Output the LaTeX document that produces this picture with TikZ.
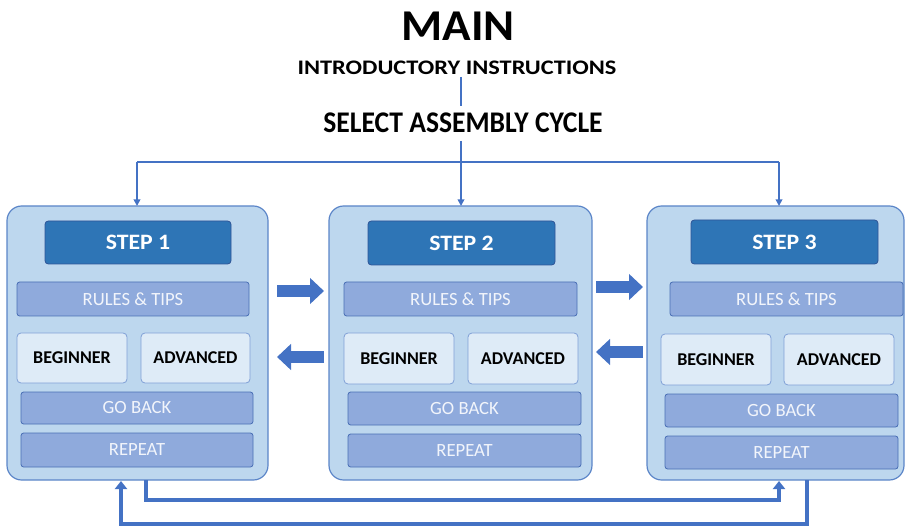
\documentclass[tikz,border=0pt]{standalone}
\usepackage{fontspec}
\setmainfont{Carlito}
\usetikzlibrary{arrows.meta,calc}
\definecolor{outerfill}{HTML}{BDD7EE}
\definecolor{outerdraw}{HTML}{5B85C8}
\definecolor{stepfill}{HTML}{2E75B6}
\definecolor{stepdraw}{HTML}{2F5597}
\definecolor{barfill}{HTML}{8FAADC}
\definecolor{bardraw}{HTML}{4A6FB5}
\definecolor{lvlfill}{HTML}{DEEBF7}
\definecolor{lvldraw}{HTML}{7F9FD6}
\definecolor{arrowc}{HTML}{4472C4}
\definecolor{bartext}{HTML}{F2F5FB}
\newcommand\mkbox[7]{\node[#2, inner sep=0pt, outer sep=0pt,
  minimum width={(#5-#3)*0.75pt}, minimum height={(#6-#4)*0.75pt}]
  (#1) at ({(#3+#5)/2},{(#4+#6)/2}) {#7};}
\newcommand\stp[1]{\scalebox{1.08}[1]{#1}}
\begin{document}
\begin{tikzpicture}[x=0.75pt,y=-0.75pt,
  outerbox/.style={draw=outerdraw, fill=outerfill, line width=0.9pt, rounded corners=11pt},
  stepbox/.style={draw=stepdraw, fill=stepfill, line width=0.6pt, rounded corners=2.5pt, text=white, font=\bfseries\fontsize{16.5}{18}\selectfont},
  barbox/.style={draw=bardraw, fill=barfill, line width=0.6pt, rounded corners=2pt, text=bartext, font=\fontsize{14}{16}\selectfont},
  lvlbox/.style={draw=lvldraw, fill=lvlfill, line width=0.6pt, rounded corners=3pt, text=black, font=\bfseries\fontsize{13.5}{15}\selectfont},
  title/.style={inner sep=0pt, font=\bfseries\fontsize{33}{36}\selectfont},
  sub/.style={inner sep=0pt, font=\bfseries\fontsize{15.5}{17}\selectfont},
  sub2/.style={inner sep=0pt, font=\bfseries\fontsize{22.5}{25}\selectfont},
  conn/.style={draw=arrowc, line width=1.5pt},
  connarrow/.style={conn, -{Triangle[length=5pt,width=5pt]}},
  blk/.style={draw=arrowc, line width=8.5pt, -{Triangle[length=10.5pt,width=19pt]}},
  loopc/.style={draw=arrowc, line width=3.6pt, -{Triangle[length=6pt,width=9pt]}}
]
\useasboundingbox (0,0) rectangle (905,530);

% titles
\node[title] (main) at (458,26) {\scalebox{1.07}[1]{MAIN}};
\node[sub] (intro) at (457,68) {\scalebox{1.18}[1]{INTRODUCTORY INSTRUCTIONS}};
\node[sub2] (sel) at (463,123) {\scalebox{0.92}[1]{SELECT ASSEMBLY CYCLE}};

% outer boxes
\mkbox{b1}{outerbox}{7}{206}{268}{480}{}
\mkbox{b2}{outerbox}{329}{206}{592}{480}{}
\mkbox{b3}{outerbox}{647}{206}{904}{480}{}

% step 1
\mkbox{s1}{stepbox}{45}{221}{231}{264}{\stp{STEP 1}}
\mkbox{r1}{barbox}{17}{282}{249}{316}{RULES \& TIPS}
\mkbox{be1}{lvlbox}{17}{333}{127}{383}{BEGINNER}
\mkbox{ad1}{lvlbox}{141}{333}{250}{383}{ADVANCED}
\mkbox{g1}{barbox}{21}{392}{253}{424}{GO BACK}
\mkbox{re1}{barbox}{21}{433}{253}{467}{REPEAT}

% step 2
\mkbox{s2}{stepbox}{368}{221}{555}{265}{\stp{STEP 2}}
\mkbox{r2}{barbox}{344}{282}{577}{316}{RULES \& TIPS}
\mkbox{be2}{lvlbox}{344}{333}{454}{384}{BEGINNER}
\mkbox{ad2}{lvlbox}{468}{333}{578}{384}{ADVANCED}
\mkbox{g2}{barbox}{348}{392}{581}{425}{GO BACK}
\mkbox{re2}{barbox}{348}{434}{581}{467}{REPEAT}

% step 3
\mkbox{s3}{stepbox}{691}{220}{878}{264}{\stp{STEP 3}}
\mkbox{r3}{barbox}{670}{282}{903}{316}{RULES \& TIPS}
\mkbox{be3}{lvlbox}{661}{334}{771}{385}{BEGINNER}
\mkbox{ad3}{lvlbox}{784}{334}{894}{385}{ADVANCED}
\mkbox{g3}{barbox}{665}{394}{898}{427}{GO BACK}
\mkbox{re3}{barbox}{665}{436}{898}{469}{REPEAT}

% top connectors
\coordinate (i1) at (461,77);
\coordinate (i2) at (461,106);
\coordinate (j1) at (461,141);
\coordinate (j2) at (461,162);
\coordinate (h1) at (137,162);
\coordinate (h3) at (779,162);
\draw[conn] (i1) -- (i2);
\draw[conn] (j1) -- (j2);
\draw[conn] (h1) -- (h3);
\draw[connarrow] (h1) -- (h1 |- b1.north);
\draw[connarrow] (j2) -- (j2 |- b2.north);
\draw[connarrow] (h3) -- (h3 |- b3.north);

% block arrows between boxes
\coordinate (a1s) at (277,291);
\coordinate (a1e) at (324,291);
\coordinate (a2s) at (324,357);
\coordinate (a2e) at (277,357);
\coordinate (a3s) at (596,287);
\coordinate (a3e) at (643,287);
\coordinate (a4s) at (643,352);
\coordinate (a4e) at (596,352);
\draw[blk] (a1s) -- (a1e);
\draw[blk] (a2s) -- (a2e);
\draw[blk] (a3s) -- (a3e);
\draw[blk] (a4s) -- (a4e);

% bottom loops
\coordinate (p1) at ($(b1.south west)+(139,0)$);
\coordinate (p3) at ($(b3.south west)+(132,1)$);
\coordinate (q3) at ($(b3.south west)+(160,0)$);
\coordinate (q1) at ($(b1.south west)+(114,1)$);
\draw[loopc] (p1) -- ++(0,20) -| (p3);
\draw[loopc] (q3) -- ++(0,44) -| (q1);
\end{tikzpicture}
\end{document}
